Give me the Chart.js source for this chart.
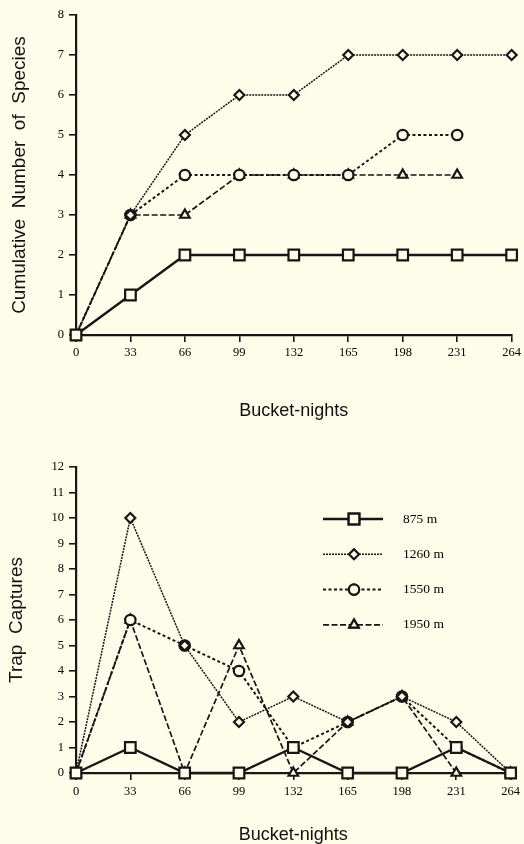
<!DOCTYPE html>
<html>
<head>
<meta charset="utf-8">
<script src="https://cdn.jsdelivr.net/npm/chart.js@4.4.1/dist/chart.umd.min.js"></script>
<style>
    html, body { margin: 0; padding: 0; background: #fdfde9; }
    .box { position: relative; width: 524px; }
    canvas { display: block; }
</style>
</head>
<body>
<div class="box" style="height:420px"><canvas id="speciesChart"></canvas></div>
<div class="box" style="height:424px"><canvas id="capturesChart"></canvas></div>
<script>
const bucketNights = [0, 33, 66, 99, 132, 165, 198, 231, 264];
const elevations = ['875 m', '1260 m', '1550 m', '1950 m'];

// cumulative number of species
const species875 = [0, 1, 2, 2, 2, 2, 2, 2, 2];
const species1260 = [0, 3, 5, 6, 6, 7, 7, 7, 7];
const species1550 = [0, 3, 4, 4, 4, 4, 5, 5];
const species1950 = [0, 3, 3, 4, 4, 4, 4, 4];

// trap captures per interval
const captures875 = [0, 1, 0, 0, 1, 0, 0, 1, 0];
const captures1260 = [0, 10, 5, 2, 3, 2, 3, 2, 0];
const captures1550 = [0, 6, 5, 4, 1, 2, 3, 1, 0];
const captures1950 = [0, 6, 0, 5, 0, 2, 3, 0, 0];

const ink = '#161616';
const paper = '#fdfde9';

// line + marker look for each elevation
const seriesStyles = [
    { borderWidth: 2.4, borderDash: [], pointStyle: 'rect', pointRadius: 7.5 },
    { borderWidth: 1.5, borderDash: [2, 1], pointStyle: 'rectRot', pointRadius: 5 },
    { borderWidth: 2, borderDash: [3, 2.5], pointStyle: 'circle', pointRadius: 5.2 },
    { borderWidth: 1.7, borderDash: [6, 2.5], pointStyle: 'triangle', pointRadius: 5.5 }
];

Chart.defaults.font.family = 'Liberation Serif';
Chart.defaults.color = '#000';

function makeDatasets(seriesList) {
    return seriesList.map((values, i) => ({
        label: elevations[i],
        data: values.map((v, j) => ({ x: bucketNights[j], y: v })),
        borderColor: ink,
        borderWidth: seriesStyles[i].borderWidth,
        borderDash: seriesStyles[i].borderDash,
        pointStyle: seriesStyles[i].pointStyle,
        pointRadius: seriesStyles[i].pointRadius,
        pointHoverRadius: seriesStyles[i].pointRadius,
        pointBorderWidth: 2.2,
        pointBorderColor: ink,
        pointBackgroundColor: paper,
        tension: 0,
        clip: false
    }));
}

// legend drawn inside the plot, like the original figure
const insideLegend = {
    id: 'insideLegend',
    afterDatasetsDraw(chart, args, opts) {
        if (!opts.show) return;
        const ctx = chart.ctx;
        const area = chart.chartArea;
        ctx.save();
        chart.data.datasets.forEach((ds, i) => {
            const y = area.top + 52 + i * 35.3;
            const x0 = area.left + 247;
            ctx.strokeStyle = ink;
            ctx.lineWidth = ds.borderWidth;
            ctx.setLineDash(ds.borderDash);
            ctx.beginPath();
            ctx.moveTo(x0, y);
            ctx.lineTo(x0 + 60, y);
            ctx.stroke();
            ctx.setLineDash([]);
            Chart.helpers.drawPoint(ctx, {
                pointStyle: ds.pointStyle,
                radius: ds.pointRadius,
                borderWidth: ds.pointBorderWidth
            }, x0 + 31, y);
            ctx.fillStyle = paper;
            ctx.fill();
            ctx.lineWidth = ds.pointBorderWidth;
            ctx.stroke();
            ctx.fillStyle = '#000';
            ctx.font = '13.5px "Liberation Serif"';
            ctx.textBaseline = 'middle';
            ctx.fillText(ds.label, x0 + 80, y);
        });
        ctx.restore();
    }
};

function buildChart(canvasId, seriesList, yMax, opts) {
    const ctx = document.getElementById(canvasId).getContext('2d');
    return new Chart(ctx, {
        type: 'line',
        data: { datasets: makeDatasets(seriesList) },
        plugins: [insideLegend],
        options: {
            responsive: true,
            maintainAspectRatio: false,
            animation: false,
            events: [],
            layout: { padding: { top: opts.top, right: 10, left: 0, bottom: 0 } },
            plugins: {
                legend: { display: false },
                tooltip: { enabled: false },
                insideLegend: { show: opts.legend }
            },
            scales: {
                x: {
                    type: 'linear',
                    min: 0,
                    max: 264,
                    afterBuildTicks: scale => {
                        scale.ticks = bucketNights.map(v => ({ value: v }));
                    },
                    afterFit: scale => { scale.height = opts.xHeight; },
                    grid: { drawOnChartArea: false, tickLength: 7, color: ink, lineWidth: 1.6 },
                    border: { color: ink, width: 2.2 },
                    ticks: { autoSkip: false, maxRotation: 0, padding: opts.xPad, font: { size: 12.5 } },
                    title: {
                        display: true,
                        text: 'Bucket-nights',
                        color: '#111',
                        font: { family: 'Liberation Sans', size: 18, lineHeight: 1 },
                        padding: { top: opts.xTitlePad, bottom: 0 }
                    }
                },
                y: {
                    min: 0,
                    max: yMax,
                    afterFit: scale => { scale.width = 76; },
                    grid: { drawOnChartArea: false, tickLength: 7, color: ink, lineWidth: 1.6 },
                    border: { color: ink, width: 2.2 },
                    ticks: { stepSize: 1, padding: 5, font: { size: 12.5 } },
                    title: {
                        display: true,
                        text: opts.yTitle,
                        color: '#111',
                        font: { family: 'Liberation Sans', size: 19, lineHeight: 1 },
                        padding: { top: opts.yTitlePad, bottom: 0 }
                    }
                }
            }
        }
    });
}

buildChart('speciesChart', [species875, species1260, species1550, species1950], 8, {
    top: 15, xHeight: 85, xPad: 3, xTitlePad: 18,
    yTitle: 'Cumulative  Number  of  Species', yTitlePad: 10.5, legend: false
});

buildChart('capturesChart', [captures875, captures1260, captures1550, captures1950], 12, {
    top: 47, xHeight: 71, xPad: 4, xTitlePad: 0,
    yTitle: 'Trap  Captures', yTitlePad: 7.5, legend: true
});
</script>
</body>
</html>
